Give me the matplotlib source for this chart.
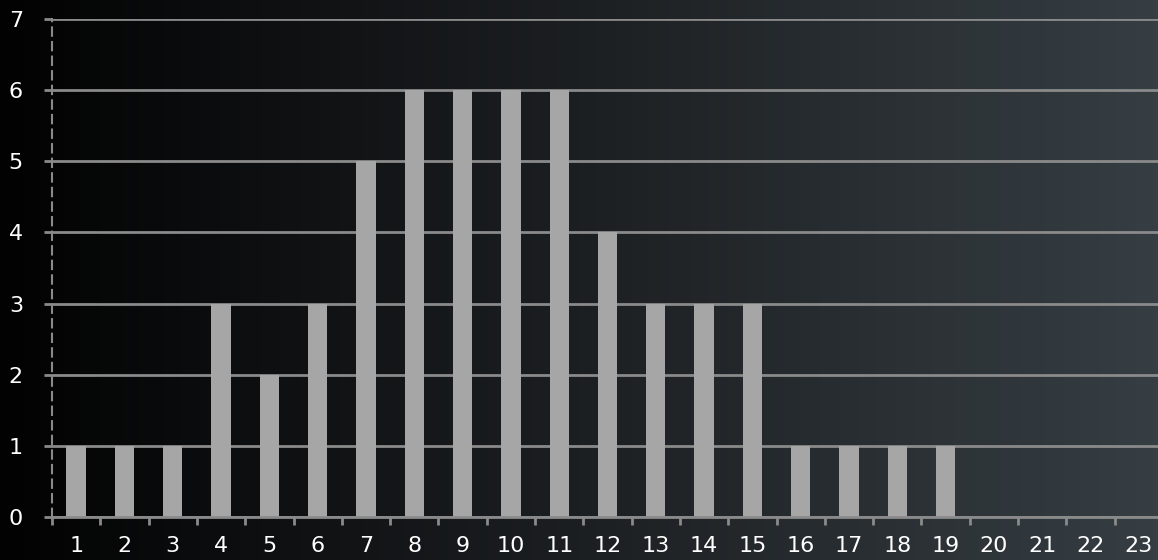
import numpy as np
import matplotlib
matplotlib.use("Agg")
import matplotlib.pyplot as plt
from matplotlib.colors import LinearSegmentedColormap

categories = [str(i) for i in range(1, 24)]
values = [1, 1, 1, 3, 2, 3, 5, 6, 6, 6, 6, 4, 3, 3, 3, 1, 1, 1, 1, 0, 0, 0, 0]

W, H = 1158, 560
fig = plt.figure(figsize=(W / 100, H / 100), dpi=100)

# background gradient
bg = fig.add_axes([0, 0, 1, 1], zorder=-10)
cmap = LinearSegmentedColormap.from_list("bg", ["#020202", "#1c1f22", "#363e43"])
bg.imshow(np.linspace(0, 1, 256)[None, :], aspect="auto", cmap=cmap,
          extent=[0, 1, 0, 1])
bg.set_axis_off()

left = 52 / W
width = 1111 / W
bottom = (H - 517) / H
height = (517 - 19) / H
ax = fig.add_axes([left, bottom, width, height])
ax.patch.set_alpha(0)

x = np.arange(len(categories))
ax.bar(x, values, width=0.4, color="#a6a6a6", zorder=3)

ax.set_xlim(-0.5, len(categories) - 0.5)
ax.set_ylim(0, 7)
ax.set_yticks(range(0, 8))
ax.grid(True, axis="y", color="#8a8a8a", linewidth=2, zorder=1)

# category labels centred, tick marks on boundaries
ax.set_xticks(x)
ax.set_xticklabels(categories)
ax.set_xticks(np.arange(-0.5, len(categories)), minor=True)
ax.tick_params(axis="x", which="major", length=0, pad=14,
               labelsize=16, labelcolor="white")
ax.tick_params(axis="x", which="minor", length=6, width=2, color="#8a8a8a",
               direction="out")
ax.tick_params(axis="y", length=6, width=2, color="#8a8a8a", pad=20,
               labelsize=16, labelcolor="white")
for lbl in ax.get_yticklabels():
    lbl.set_horizontalalignment("center")

for s in ["top", "right"]:
    ax.spines[s].set_visible(False)
ax.spines["bottom"].set_color("#8a8a8a")
ax.spines["bottom"].set_linewidth(2)
ax.spines["bottom"].set_zorder(4)
ax.spines["left"].set_color("#8a8a8a")
ax.spines["left"].set_linewidth(1.5)
ax.spines["left"].set_linestyle((0, (4, 3)))

fig.savefig("out.png", dpi=100)
